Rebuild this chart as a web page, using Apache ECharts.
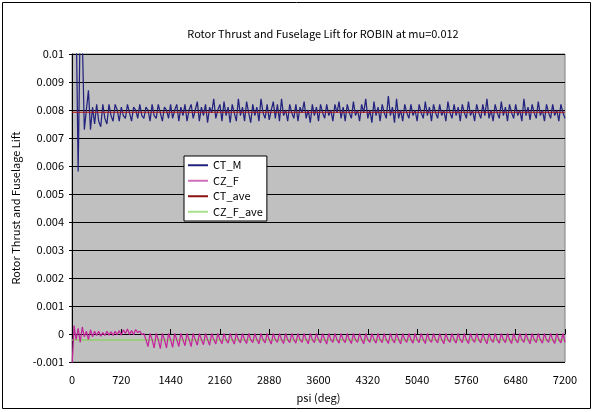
<!DOCTYPE html>
<html>
<head>
<meta charset="utf-8">
<script src="https://cdn.jsdelivr.net/npm/echarts@6/dist/echarts.min.js"></script>
<style>
html,body{margin:0;padding:0;background:#fff;}
#chart{width:593px;height:412px;}
</style>
</head>
<body>
<div id="chart"></div>
<script>
// psi sampling step (deg) for the sampled series
const PSI_STEP = 30;
const xTicks = { min: 0, max: 7200, interval: 720 };
const yTicks = { min: -0.001, max: 0.01, interval: 0.001 };

const seriesNames = ['CT_M', 'CZ_F', 'CT_ave', 'CZ_F_ave'];

// CT_M, one value per 30 deg, 0..7200
const ctM = [
0.0125,0.0122,0.0115,0.0058,0.0112,0.0106,0.0073,0.0080,0.0087,0.0073,0.0081,0.0075,
0.0082,0.0076,0.0074,0.0082,0.0077,0.0075,0.0082,0.0078,0.0076,0.0082,0.0080,0.0076,
0.0081,0.0078,0.0077,0.0082,0.0079,0.0076,0.0081,0.0080,0.0077,0.0082,0.0078,0.0077,
0.0081,0.0080,0.0076,0.0082,0.0078,0.0077,0.0082,0.0079,0.0076,0.0081,0.0080,0.0077,
0.0082,0.0077,0.0080,0.0082,0.0076,0.0081,0.0078,0.0082,0.0076,0.0080,0.0082,0.0077,
0.0080,0.0083,0.0076,0.0081,0.0078,0.0082,0.00755,0.0081,0.0079,0.0084,0.0077,0.0080,
0.0082,0.0076,0.0083,0.0078,0.0081,0.00755,0.0082,0.0079,0.0076,0.0084,0.0078,0.0081,
0.0076,0.0083,0.0079,0.00755,0.0082,0.0078,0.0081,0.0076,0.0084,0.0079,0.0077,0.0082,
0.00765,0.0080,0.0083,0.0077,0.0082,0.0076,0.0084,0.0078,0.0080,0.0076,0.0082,0.0079,
0.0077,0.0082,0.0076,0.0081,0.0079,0.0083,0.0077,0.0080,0.00755,0.0082,0.0078,0.0081,
0.0076,0.0082,0.0079,0.0077,0.0082,0.0078,0.0080,0.0076,0.0082,0.0079,0.0083,0.0077,
0.0081,0.0076,0.0082,0.0079,0.0077,0.0083,0.0078,0.0080,0.0076,0.0082,0.0079,0.0084,
0.0077,0.0080,0.00755,0.0083,0.0078,0.0081,0.0076,0.0082,0.0079,0.0077,0.0085,0.0078,
0.0081,0.00755,0.0084,0.0077,0.0080,0.0076,0.0082,0.0079,0.0077,0.0082,0.0078,0.0080,
0.0076,0.0082,0.0079,0.0077,0.0083,0.0078,0.0081,0.0076,0.0082,0.0079,0.0077,0.0082,
0.0078,0.0080,0.0076,0.0083,0.0079,0.0077,0.0082,0.0078,0.0081,0.0076,0.0082,0.0079,
0.0077,0.0083,0.0078,0.0080,0.0076,0.0082,0.0079,0.0077,0.0082,0.0078,0.0084,0.0077,
0.0080,0.0076,0.0082,0.0079,0.0077,0.0083,0.0078,0.0081,0.0076,0.0082,0.0079,0.0077,
0.0082,0.0078,0.0080,0.0076,0.0084,0.0078,0.0081,0.00765,0.0082,0.0079,0.0077,0.0083,
0.0078,0.0080,0.0076,0.0082,0.0079,0.0077,0.0082,0.0078,0.0080,0.0076,0.0082,0.0079,
0.0077
];

// CZ_F, one value per 30 deg, 0..7200
const czF = [
-0.0012,0.0003,-0.0002,0.0002,-0.0003,0.00025,-0.0001,0.0001,-0.0002,0.00015,-0.0001,0.0001,
-0.00005,0.0001,-0.00008,0.00005,-0.00005,0.0001,-0.00004,0.00008,-0.00005,0.0001,-0.00003,0.00012,
-0.00004,0.00015,0.00002,0.00018,-0.00002,0.00012,-0.00003,0.00016,0.00005,0.0001,-0.00002,0.00002,
-0.0002,-0.00045,0.00002,-0.0002,-0.0005,0.00002,-0.0002,-0.00052,0.00002,-0.0002,-0.0005,0.00002,
-0.0002,-0.00048,0.00002,-0.0002,-0.00045,0.00002,-0.0002,-0.00042,0.00002,-0.0002,-0.00045,0.00002,
-0.0002,-0.0004,0.00002,-0.0002,-0.00038,0.00002,-0.0002,-0.0004,0.00002,-0.0002,-0.00036,0.00002,
-0.0002,-0.00035,0.00002,-0.0002,-0.00033,0.00002,-0.0002,-0.00036,0.00002,-0.0002,-0.00032,0.00002,
-0.0002,-0.00034,0.00002,-0.0002,-0.00031,0.00002,-0.0002,-0.00035,0.00002,-0.0002,-0.00032,0.00002,
-0.0002,-0.00036,0.00002,-0.0002,-0.0003,0.00002,-0.0002,-0.00034,0.00002,-0.0002,-0.00031,0.00002,
-0.0002,-0.00033,0.00002,-0.0002,-0.0003,0.00002,-0.0002,-0.00035,0.00002,-0.0002,-0.00031,0.00002,
-0.0002,-0.00032,0.00002,-0.0002,-0.00036,0.00002,-0.0002,-0.0003,0.00002,-0.0002,-0.00033,0.00002,
-0.0002,-0.00031,0.00002,-0.0002,-0.00034,0.00002,-0.0002,-0.0003,0.00002,-0.0002,-0.00035,0.00002,
-0.0002,-0.0003,0.00002,-0.0002,-0.00033,0.00002,-0.0002,-0.00031,0.00002,-0.0002,-0.00034,0.00002,
-0.0002,-0.00032,0.00002,-0.0002,-0.00035,0.00002,-0.0002,-0.0003,0.00002,-0.0002,-0.00033,0.00002,
-0.0002,-0.00031,0.00002,-0.0002,-0.00034,0.00002,-0.0002,-0.0003,0.00002,-0.0002,-0.00032,0.00002,
-0.0002,-0.00035,0.00002,-0.0002,-0.0003,0.00002,-0.0002,-0.00033,0.00002,-0.0002,-0.00031,0.00002,
-0.0002,-0.00034,0.00002,-0.0002,-0.0003,0.00002,-0.0002,-0.00032,0.00002,-0.0002,-0.00035,0.00002,
-0.0002,-0.0003,0.00002,-0.0002,-0.00033,0.00002,-0.0002,-0.00031,0.00002,-0.0002,-0.00034,0.00002,
-0.0002,-0.00032,0.00002,-0.0002,-0.0003,0.00002,-0.0002,-0.00035,0.00002,-0.0002,-0.00031,0.00002,
-0.0002,-0.00033,0.00002,-0.0002,-0.0003,0.00002,-0.0002,-0.00034,0.00002,-0.0002,-0.00032,0.00002,
-0.0003
];

// averages (start and end of range)
const avePsi = [0, 7200];
const ctAve = [0.00792, 0.00792];
const czFAve = [-0.00021, -0.00021];

const FONT = '"Noto Sans CJK JP", "Noto Sans", sans-serif';

function sampled(vals) { return vals.map((v, i) => [i * PSI_STEP, v]); }
function paired(xs, ys) { return xs.map((x, i) => [x, ys[i]]); }

const chart = echarts.init(document.getElementById('chart'), null, { renderer: 'canvas' });
chart.setOption({
  animation: false,
  backgroundColor: '#ffffff',
  textStyle: { fontFamily: FONT },
  title: {
    text: 'Rotor Thrust and Fuselage Lift for ROBIN at mu=0.012',
    left: 318, top: 23, textAlign: 'center',
    textStyle: { fontSize: 11, fontWeight: 'normal', color: '#000', fontFamily: FONT }
  },
  graphic: [{
    type: 'rect', shape: { x: 2.5, y: 2.5, width: 588, height: 406 },
    style: { fill: 'none', stroke: '#000', lineWidth: 1 }, silent: true, z: -1
  }],
  grid: {
    left: 72, right: 28, top: 54, bottom: 50, show: true,
    backgroundColor: '#C0C0C0', borderColor: '#808080', borderWidth: 1
  },
  legend: {
    data: seriesNames,
    orient: 'vertical', left: 184, top: 156,
    backgroundColor: '#fff', borderColor: '#000', borderWidth: 1,
    padding: [3, 4, 3, 4], itemGap: 3, itemWidth: 20, itemHeight: 2, icon: 'rect',
    textStyle: { fontSize: 11, color: '#000', fontFamily: FONT, lineHeight: 12.5 }
  },
  xAxis: {
    type: 'value', min: xTicks.min, max: xTicks.max, interval: xTicks.interval,
    name: 'psi (deg)', nameLocation: 'middle', nameGap: 30,
    nameTextStyle: { fontSize: 11, color: '#000', fontFamily: FONT },
    axisLine: { lineStyle: { color: '#000', width: 1 } },
    axisTick: { inside: true, length: 5, lineStyle: { color: '#000' } },
    axisLabel: { fontSize: 11, color: '#000', margin: 12, fontFamily: FONT,
      formatter: v => String(Math.round(v)) },
    splitLine: { show: false }
  },
  yAxis: {
    type: 'value', min: yTicks.min, max: yTicks.max, interval: yTicks.interval,
    name: 'Rotor Thrust and Fuselage Lift', nameLocation: 'middle', nameGap: 48,
    nameTextStyle: { fontSize: 11, color: '#000', fontFamily: FONT },
    axisLine: { show: true, lineStyle: { color: '#000', width: 1 } },
    axisTick: { show: true, length: 3, lineStyle: { color: '#000' } },
    axisLabel: {
      fontSize: 11, color: '#000', margin: 8, fontFamily: FONT,
      formatter: v => (Math.abs(v) < 1e-12 ? '0' : String(parseFloat(v.toFixed(3))))
    },
    splitLine: { show: true, lineStyle: { color: '#000', width: 1 } }
  },
  series: [
    { name: 'CT_M', type: 'line', data: sampled(ctM), showSymbol: false, z: 2,
      color: '#23237F', lineStyle: { width: 1.25, color: '#23237F' } },
    { name: 'CZ_F', type: 'line', data: sampled(czF), showSymbol: false, z: 4,
      color: '#D070B8', lineStyle: { width: 1.25, color: '#C4259A' } },
    { name: 'CT_ave', type: 'line', data: paired(avePsi, ctAve), showSymbol: false, z: 5,
      color: '#8B1010', lineStyle: { width: 1.2, color: '#B01010' } },
    { name: 'CZ_F_ave', type: 'line', data: paired(avePsi, czFAve), showSymbol: false, z: 3,
      color: '#A6E08C', lineStyle: { width: 1.5, color: '#8FCF6A' } }
  ]
});
</script>
</body>
</html>
